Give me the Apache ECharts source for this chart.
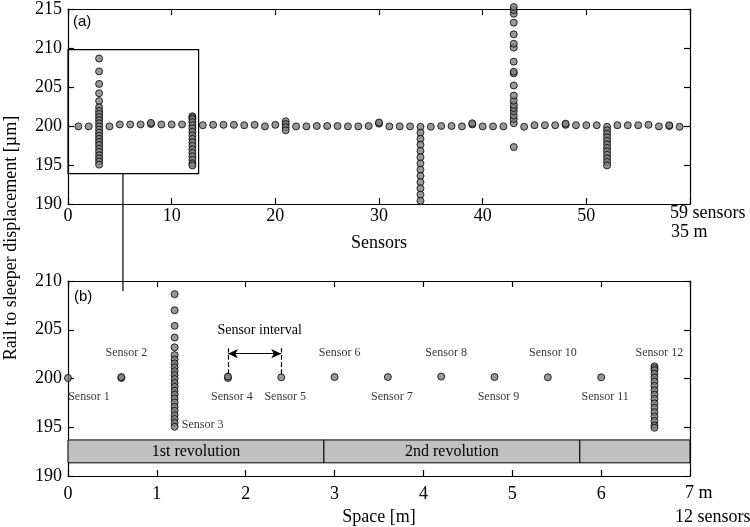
<!DOCTYPE html>
<html><head><meta charset="utf-8">
<script src="https://cdn.jsdelivr.net/npm/echarts@6/dist/echarts.min.js"></script>
<style>html,body{margin:0;padding:0;background:#fff}#c{width:750px;height:527px}</style>
</head><body><div id="c"></div>
<script>
// ================= DATA =================
// (a) all 59 sensors: sensor index 1..59, baseline displacement (null where a column of values exists)
const topSensorIdx = [1,2,3,4,5,6,7,8,9,10,11,12,13,14,15,16,17,18,19,20,21,22,23,24,25,26,27,28,29,30,31,32,33,34,35,36,37,38,39,40,41,42,43,44,45,46,47,48,49,50,51,52,53,54,55,56,57,58,59];
const topBaseline = [199.95,199.95,null,199.95,200.2,200.2,200.2,200.25,200.2,200.2,200.2,null,200.1,200.15,200.15,200.15,200.1,200.15,199.95,200.15,null,199.95,199.95,200.0,200.0,200.0,199.95,199.95,200.0,200.3,199.95,199.95,199.95,null,199.9,200.0,200.0,199.95,200.2,199.95,199.95,199.95,null,199.9,200.1,200.1,200.1,200.15,200.1,200.1,200.1,null,200.1,200.1,200.1,200.15,199.95,200.0,199.9];
// repeated readings that overlap baseline points
const topRepeatIdx = [8,30,39,48,58];
const topRepeatVal = [200.4,200.45,200.35,200.3,200.1];
// columns of values for individual sensors
const sensor3Values = [208.65,207.0,205.4,204.2,203.2,202.4,201.95,201.55,201.15,200.75,200.35,199.95,199.55,199.15,198.75,198.35,197.95,197.55,197.1,196.7,196.25,195.85,195.45,195.05];
const sensor12Values = [201.25,201.05,200.85,200.5,200.1,199.7,199.25,198.8,198.35,197.9,197.45,197.0,196.55,196.1,195.65,195.2,194.95];
const sensor21Values = [200.6,200.25,199.85,199.45];
const sensor34Values = [199.9,199.15,198.35,197.6,196.8,196.0,195.2,194.4,193.6,192.8,192.0,191.2,190.4];
const sensor43Values = [197.3,200.35,200.9,201.35,201.9,202.3,202.7,203.25,203.9,205.2,206.75,206.95,208.25,210.05,210.55,211.75,213.25,214.4,214.85,215.25];
const sensor52Values = [199.9,199.45,199.0,198.55,198.1,197.65,197.2,196.75,196.3,195.85,195.4,194.95];
const topColumns = [[3,sensor3Values],[12,sensor12Values],[21,sensor21Values],[34,sensor34Values],[43,sensor43Values],[52,sensor52Values]];

// (b) first 12 sensors in space [m]
const bottomPositions = [0,0.6,1.2,1.8,2.4,3.0,3.6,4.2,4.8,5.4,6.0,6.6];
const bottomBaseline = [200.05,200.05,null,200.05,200.12,200.15,200.15,200.2,200.15,200.12,200.12,null];
const bottomRepeatPos = [0.6,1.8];
const bottomRepeatVal = [200.15,200.2];
const sensorNames = ['Sensor 1','Sensor 2','Sensor 3','Sensor 4','Sensor 5','Sensor 6','Sensor 7','Sensor 8','Sensor 9','Sensor 10','Sensor 11','Sensor 12'];
const sensorLabelSide = ['below','above','right','below','below','above','below','above','below','above','below','above'];
const revolutionBounds = [0,2.88,5.76,7];
const revolutionNames = ['1st revolution','2nd revolution',''];
const intervalFrom = 1.8, intervalTo = 2.4;

// tick labels
const topXTicks = [0,10,20,30,40,50];
const bottomXTicks = [0,1,2,3,4,5,6];

// inset rectangle in (a)
const insetRect = [[0,193.9],[12.6,209.8]];
const insetLinkX = 5.3;

// ================= BUILD =================
const serif = 'Liberation Serif';
const sans = 'Liberation Sans';

const topData = [];
topSensorIdx.forEach((s,i)=>{ if(topBaseline[i]!=null) topData.push([s,topBaseline[i]]); });
topRepeatIdx.forEach((s,i)=>topData.push([s,topRepeatVal[i]]));
topColumns.forEach(([s,vals])=>vals.forEach(v=>topData.push([s,v])));

const botData = [];
bottomPositions.forEach((p,i)=>{ if(bottomBaseline[i]!=null) botData.push([p,bottomBaseline[i]]); });
bottomRepeatPos.forEach((p,i)=>botData.push([p,bottomRepeatVal[i]]));
sensor3Values.forEach(v=>botData.push([bottomPositions[2],v]));
sensor12Values.forEach(v=>botData.push([bottomPositions[11],v]));

const labelData = bottomPositions.map((p,i)=>{
  const side = sensorLabelSide[i];
  let offset;
  if(side==='above') offset=[5,-26];
  else if(side==='below') offset=[i===0?21:4,18];
  else offset=[28,46];
  return {value:[p,200], label:{show:true, position:'inside', offset:offset, formatter:sensorNames[i]}};
});

const revAreas = [];
for(let i=0;i<revolutionBounds.length-1;i++){
  revAreas.push([{xAxis:revolutionBounds[i], yAxis:191.35, name:revolutionNames[i]},{xAxis:revolutionBounds[i+1], yAxis:193.7}]);
}

const lineStyle = {color:'#000', width:1.2};
function mkX(grid, pos, min, max, interval, showLabel, extra){
  return Object.assign({
    type:'value', gridIndex:grid, position:pos, min:min, max:max, interval:interval,
    axisLine:{show:true, onZero:false, lineStyle:lineStyle},
    axisTick:{show:true, inside:true, length:6, lineStyle:lineStyle},
    splitLine:{show:false},
    axisLabel:{show:showLabel, color:'#000', fontFamily:serif, fontSize:18}
  }, extra||{});
}
function mkY(grid, pos, min, max, showLabel){
  return {
    type:'value', gridIndex:grid, position:pos, min:min, max:max, interval:5,
    axisLine:{show:true, onZero:false, lineStyle:lineStyle},
    axisTick:{show:true, inside:true, length:6, lineStyle:lineStyle},
    splitLine:{show:false},
    axisLabel:{show:showLabel, color:'#000', fontFamily:serif, fontSize:18, margin:6}
  };
}

const symStyle = {color:'#808080', borderColor:'#000', borderWidth:1};

const option = {
  animation:false,
  backgroundColor:'#fff',
  textStyle:{fontFamily:serif},
  grid:[
    {left:68, right:60, top:8, height:196},
    {left:68, right:60, top:281, height:195}
  ],
  xAxis:[
    mkX(0,'bottom',0,60,10,true,{
      name:'Sensors', nameLocation:'middle', nameGap:30,
      nameTextStyle:{fontFamily:serif, fontSize:18, color:'#000'},
      axisLabel:{show:true, color:'#000', fontFamily:serif, fontSize:18, margin:3,
        formatter:v=>topXTicks.indexOf(v)>=0?String(v):''}
    }),
    mkX(0,'top',0,60,10,false),
    mkX(1,'bottom',0,7,1,true,{
      name:'Space [m]', nameLocation:'middle', nameGap:32,
      nameTextStyle:{fontFamily:serif, fontSize:18, color:'#000'},
      axisLabel:{show:true, color:'#000', fontFamily:serif, fontSize:18, margin:9,
        formatter:v=>bottomXTicks.indexOf(v)>=0?String(v):''}
    }),
    mkX(1,'top',0,7,1,false)
  ],
  yAxis:[
    mkY(0,'left',190,215,true),
    mkY(0,'right',190,215,false),
    mkY(1,'left',190,210,true),
    mkY(1,'right',190,210,false)
  ],
  series:[
    {
      type:'scatter', xAxisIndex:0, yAxisIndex:0, clip:false, silent:true,
      symbol:'circle', symbolSize:7, itemStyle:symStyle, data:topData,
      markArea:{silent:true, itemStyle:{color:'rgba(0,0,0,0)', borderColor:'#000', borderWidth:1.2},
        data:[[{xAxis:insetRect[0][0], yAxis:insetRect[0][1]},{xAxis:insetRect[1][0], yAxis:insetRect[1][1]}]]}
    },
    {
      type:'line', xAxisIndex:2, yAxisIndex:2, data:[], silent:true,
      markArea:{silent:true,
        itemStyle:{color:'#c0c0c0', borderColor:'#000', borderWidth:1},
        label:{show:true, position:'inside', color:'#000', fontFamily:serif, fontSize:16},
        data:revAreas}
    },
    {
      type:'scatter', xAxisIndex:2, yAxisIndex:2, clip:false, silent:true,
      symbol:'circle', symbolSize:7, itemStyle:symStyle, data:botData, z:3
    },
    {
      type:'scatter', xAxisIndex:2, yAxisIndex:2, clip:false, silent:true,
      symbol:'circle', symbolSize:1, itemStyle:{color:'rgba(0,0,0,0)', borderWidth:0}, data:labelData, z:4,
      label:{color:'#000', fontFamily:serif, fontSize:12},
      markLine:{silent:true, symbol:['none','none'], animation:false,
        lineStyle:{color:'#000', width:1.2, type:'dashed'},
        label:{show:false},
        data:[
          [{coord:[intervalFrom,200.45]},{coord:[intervalFrom,203.1]}],
          [{coord:[intervalTo,200.45]},{coord:[intervalTo,203.1]}],
          [{coord:[intervalFrom,202.55], symbol:'arrow', symbolSize:[7,10],
             lineStyle:{type:'solid', color:'#000', width:1.2},
             label:{show:true, position:'middle', formatter:'Sensor interval', distance:16, offset:[5,0],
               color:'#000', fontFamily:serif, fontSize:14}},
           {coord:[intervalTo,202.55], symbol:'arrow', symbolSize:[7,10]}]
        ]}
    }
  ],
  graphic:[
    {type:'text', x:11, y:238, rotation:Math.PI/2, style:{text:'Rail to sleeper displacement [µm]', font:'18px "Liberation Serif"', fill:'#000', align:'center', verticalAlign:'middle'}},
    {type:'text', x:73, y:14, style:{text:'(a)', font:'15px "Liberation Sans"', fill:'#000'}},
    {type:'text', x:74, y:289, style:{text:'(b)', font:'15px "Liberation Sans"', fill:'#000'}},
    {type:'text', x:670, y:204, style:{text:'59 sensors', font:'18px "Liberation Serif"', fill:'#000'}},
    {type:'text', x:671, y:223, style:{text:'35 m', font:'18px "Liberation Serif"', fill:'#000'}},
    {type:'text', x:685, y:484, style:{text:'7 m', font:'18px "Liberation Serif"', fill:'#000'}},
    {type:'text', x:675, y:508, style:{text:'12 sensors', font:'18px "Liberation Serif"', fill:'#000'}}
  ]
};

const chart = echarts.init(document.getElementById('c'), null, {renderer:'canvas'});
chart.setOption(option);
// connector from inset rectangle down into panel (b)
const p1 = chart.convertToPixel({xAxisIndex:0, yAxisIndex:0}, [insetLinkX, insetRect[0][1]]);
const pTop = chart.convertToPixel({xAxisIndex:2, yAxisIndex:2}, [0, 210]);
chart.setOption({graphic: option.graphic.concat([
  {type:'line', shape:{x1:p1[0], y1:p1[1], x2:p1[0], y2:pTop[1]+10}, style:{stroke:'#000', lineWidth:1.2}}
])});
</script>
</body></html>
